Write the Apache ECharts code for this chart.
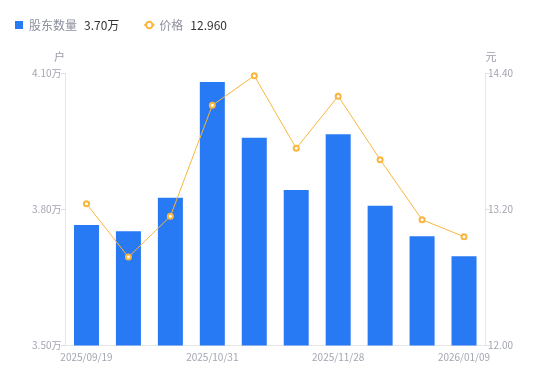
<!DOCTYPE html>
<html>
<head>
<meta charset="utf-8">
<script src="https://cdn.jsdelivr.net/npm/echarts@6/dist/echarts.min.js"></script>
<style>html,body{margin:0;padding:0;background:#fff}#c{width:550px;height:381px}</style>
</head>
<body>
<div id="c"></div>
<script>
var categories = ['2025/09/19','2025/09/30','2025/10/20','2025/10/31','2025/11/10','2025/11/20','2025/11/28','2025/12/10','2025/12/19','2026/01/09'];
var holders = [37660, 37520, 38260, 40810, 39580, 38430, 39660, 38080, 37410, 36970];
var prices = [13.25, 12.78, 13.14, 14.12, 14.38, 13.74, 14.20, 13.64, 13.11, 12.96];
var leftTicks = {min: 35000, max: 41000, interval: 3000};
var rightTicks = {min: 12.00, max: 14.40, interval: 1.2};

var font = '"Noto Sans CJK SC", "Liberation Sans", sans-serif';
var chart = echarts.init(document.getElementById('c'));
var lastHolder = (holders[holders.length-1]/10000).toFixed(2) + '万';
var lastPrice = prices[prices.length-1].toFixed(3);
chart.setOption({
  animation: false,
  textStyle: {fontFamily: font},
  legend: {
    left: 10, top: 14,
    itemWidth: 10, itemHeight: 8, itemGap: 24, itemTextGap: 5,
    data: [
      {name: '股东数量', icon: 'path://M0,0h1v1h-1z'},
      {name: '价格'}
    ],
    formatter: function (n) {
      return '{n|' + n + '}{v|' + (n === '股东数量' ? lastHolder : lastPrice) + '}';
    },
    textStyle: {
      rich: {
        n: {color: '#8c909c', fontSize: 12, fontFamily: font, padding: [0, 7, 0, 0]},
        v: {color: '#333333', fontSize: 12, fontFamily: font}
      }
    }
  },
  grid: {left: 65.5, right: 65, top: 73.5, bottom: 35.5, containLabel: false},
  xAxis: {
    type: 'category',
    data: categories,
    axisLine: {lineStyle: {color: '#e6e6e6'}},
    axisTick: {show: false},
    axisLabel: {interval: 2, color: '#a3a6b2', fontSize: 10, margin: 7, fontFamily: font}
  },
  yAxis: [
    {
      type: 'value', name: '户', min: leftTicks.min, max: leftTicks.max, interval: leftTicks.interval,
      nameGap: 11,
      nameTextStyle: {color: '#9a9da8', fontSize: 11, padding: [0, 12, 0, 0], fontFamily: font},
      axisLine: {show: true, lineStyle: {color: '#e6e6e6'}},
      axisTick: {show: true, length: 5, lineStyle: {color: '#e0e0e0'}},
      splitLine: {show: false},
      axisLabel: {color: '#a3a6b2', fontSize: 10, margin: 4, fontFamily: font,
        formatter: function (v) { return (v/10000).toFixed(2) + '万'; }}
    },
    {
      type: 'value', name: '元', min: rightTicks.min, max: rightTicks.max, interval: rightTicks.interval,
      nameGap: 11,
      nameTextStyle: {color: '#9a9da8', fontSize: 11, padding: [0, 0, 0, 12], fontFamily: font},
      axisLine: {show: true, lineStyle: {color: '#e6e6e6'}},
      axisTick: {show: true, length: 5, lineStyle: {color: '#e0e0e0'}},
      splitLine: {show: false},
      axisLabel: {color: '#a3a6b2', fontSize: 10, margin: 3, fontFamily: font,
        formatter: function (v) { return v.toFixed(2); }}
    }
  ],
  series: [
    {
      name: '股东数量', type: 'bar', yAxisIndex: 0, data: holders, barWidth: 25,
      itemStyle: {color: '#2879f4'}
    },
    {
      name: '价格', type: 'line', yAxisIndex: 1, data: prices,
      symbol: 'emptyCircle', symbolSize: 5,
      lineStyle: {color: '#fab53c', width: 1},
      itemStyle: {color: '#fab53c', borderWidth: 2}
    }
  ]
});
</script>
</body>
</html>
